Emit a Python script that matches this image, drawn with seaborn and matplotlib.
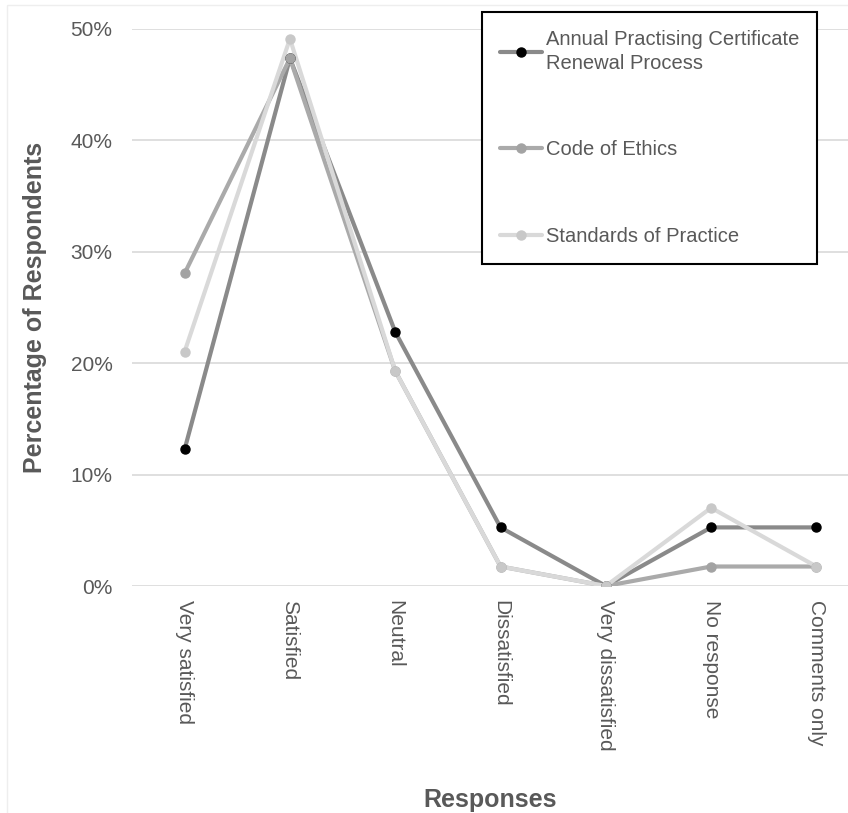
import matplotlib
matplotlib.use('Agg')
import matplotlib.pyplot as plt
import seaborn as sns
import pandas as pd
from matplotlib.ticker import PercentFormatter
from matplotlib.patches import Rectangle

## data (share of respondents)
responses = ['Very satisfied', 'Satisfied', 'Neutral', 'Dissatisfied',
             'Very dissatisfied', 'No response', 'Comments only']
annual_renewal = [0.1228, 0.4737, 0.2281, 0.0526, 0.0, 0.0526, 0.0526]
code_of_ethics = [0.2807, 0.4737, 0.1930, 0.0175, 0.0, 0.0175, 0.0175]
standards_practice = [0.2105, 0.4912, 0.1930, 0.0175, 0.0, 0.0702, 0.0175]

series_names = ['Annual Practising Certificate\nRenewal Process',
                'Code of Ethics', 'Standards of Practice']
line_colors = ['#8a8a8a', '#aaaaaa', '#d9d9d9']
marker_colors = ['#000000', '#a3a3a3', '#c8c8c8']

df = pd.DataFrame({
    'Response': responses * 3,
    'Share': annual_renewal + code_of_ethics + standards_practice,
    'Series': [s for s in series_names for _ in responses],
})

sns.set_style('white')
plt.rcParams['font.family'] = ['Liberation Sans', 'DejaVu Sans']
text_grey = '#595959'

fig = plt.figure(figsize=(8.48, 8.13), dpi=100)
ax = fig.add_axes([132 / 848, (813 - 586) / 813, (848 - 132) / 848, (586 - 29) / 813])

# faint chart frame
fig.patches.append(Rectangle((7 / 848, -0.01), 1.0, 1 - 5 / 813 + 0.01,
                             transform=fig.transFigure, fill=False,
                             edgecolor='#eeeeee', linewidth=1))

sns.lineplot(data=df, x='Response', y='Share', hue='Series', sort=False,
             palette=line_colors, linewidth=3, ax=ax, legend=False)

# markers on top of each line
for i, name in enumerate(series_names):
    sub = df[df['Series'] == name]
    ax.plot(sub['Response'], sub['Share'], linestyle='none', marker='o',
            markersize=6.5, color=marker_colors[i], zorder=3)

ax.set_xlim(-0.5, 6.3)
ax.set_ylim(0, 0.5)
ax.set_yticks([0, 0.1, 0.2, 0.3, 0.4, 0.5])
ax.yaxis.set_major_formatter(PercentFormatter(1.0, decimals=0))
ax.grid(axis='y', color='#d9d9d9', linewidth=1.2)
ax.grid(axis='x', visible=False)
for s in ax.spines.values():
    s.set_visible(False)

ax.tick_params(axis='y', length=0, pad=14, labelsize=15, labelcolor=text_grey)
ax.tick_params(axis='x', length=0, pad=10, labelsize=15, labelcolor=text_grey)
for lbl in ax.get_xticklabels():
    lbl.set_rotation(270)
    lbl.set_va('top')
    lbl.set_ha('center')

ax.set_xlabel('Responses', fontsize=18, fontweight='bold', color=text_grey, labelpad=27)
ax.set_ylabel('Percentage of Respondents', fontsize=18, fontweight='bold',
              color=text_grey, labelpad=17)

## legend
handles = []
for i, name in enumerate(series_names):
    h, = ax.plot([], [], color=line_colors[i], linewidth=3, marker='o',
                 markersize=6.5, markerfacecolor=marker_colors[i],
                 markeredgecolor=marker_colors[i], label=name)
    handles.append(h)
leg = ax.legend(handles=handles, loc='upper right',
                bbox_to_anchor=(817 / 848, 1 - 12 / 813), bbox_transform=fig.transFigure,
                borderaxespad=0, fontsize=14.5, frameon=True, fancybox=False,
                edgecolor='black', framealpha=1, borderpad=0.9, labelspacing=3.35,
                handlelength=2.1, handletextpad=0.15)
leg.get_frame().set_linewidth(1.5)
for t in leg.get_texts():
    t.set_color(text_grey)
    t.set_linespacing(1.3)

fig.savefig('out.png', dpi=100)
